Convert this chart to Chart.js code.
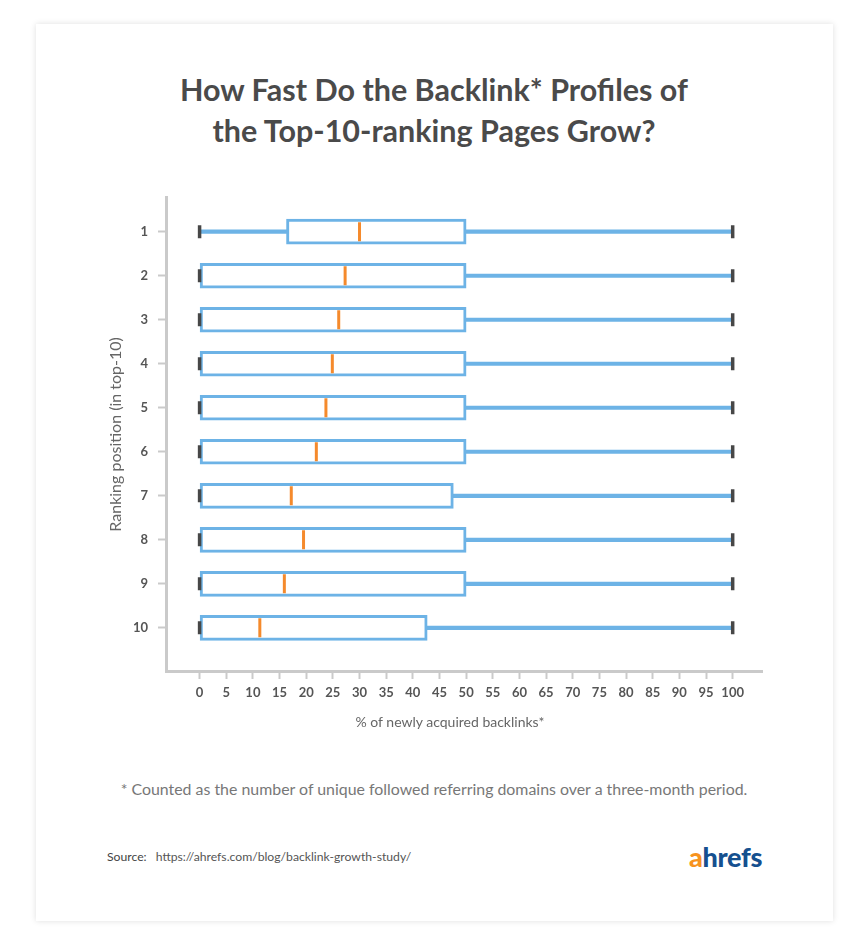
<!DOCTYPE html>
<html>
<head>
<meta charset="utf-8">
<script src="https://cdn.jsdelivr.net/npm/chart.js@4.4.1/dist/chart.umd.min.js"></script>
<style>
  html, body { margin: 0; padding: 0; background: #fff; }
  body { width: 858px; height: 936px; position: relative; font-family: Lato, "Open Sans", sans-serif; }
  .card {
    position: absolute; left: 36px; top: 24px; width: 797px; height: 897px;
    background: #fff; box-shadow: 0 0 6px rgba(0, 0, 0, 0.13);
  }
  .title {
    position: absolute; left: 0; top: 69px; width: 868px; text-align: center;
    font-size: 30.5px; font-weight: 700; line-height: 41px; color: #4a4a4a;
  }
  .chart-wrap { position: absolute; left: 90px; top: 180px; width: 690px; height: 570px; }
  .xtitle {
    position: absolute; left: 300px; top: 713px; width: 300px; text-align: center;
    font-size: 14px; color: #666;
  }
  .note {
    position: absolute; left: 0; top: 779px; width: 868px; text-align: center;
    font-size: 15.9px; color: #777;
  }
  .source { position: absolute; left: 107px; top: 849px; font-size: 12.2px; color: #444; }
  .source span { color: #555; margin-left: 9px; }
  .logo {
    position: absolute; left: 689px; top: 840px; font-size: 27px; font-weight: 900;
    color: #15508f; letter-spacing: -0.3px;
  }
  .logo b { color: #f7931e; font-weight: 900; }
</style>
</head>
<body>
<div class="card"></div>
<div class="title">How Fast Do the Backlink* Profiles of<br>the Top-10-ranking Pages Grow?</div>
<div class="chart-wrap"><canvas id="box-chart"></canvas></div>
<div class="xtitle">% of newly acquired backlinks*</div>
<div class="note">* Counted as the number of unique followed referring domains over a three-month period.</div>
<div class="source">Source:<span>https://ahrefs.com/blog/backlink-growth-study/</span></div>
<div class="logo"><b>a</b>hrefs</div>

<script>
// ranking positions and the five-number summary per position (% of new backlinks)
const positions = [1, 2, 3, 4, 5, 6, 7, 8, 9, 10];
const whiskerLow = [0, 0, 0, 0, 0, 0, 0, 0, 0, 0];
const q1 = [16.3, 0, 0, 0, 0, 0, 0, 0, 0, 0];
const medians = [30, 27.3, 26.1, 24.9, 23.7, 21.9, 17.2, 19.5, 15.9, 11.3];
const q3 = [50, 50, 50, 50, 50, 50, 47.6, 50, 50, 42.7];
const whiskerHigh = [100, 100, 100, 100, 100, 100, 100, 100, 100, 100];
const xTicks = [0, 5, 10, 15, 20, 25, 30, 35, 40, 45, 50, 55, 60, 65, 70, 75, 80, 85, 90, 95, 100];

const blue = '#6db3e6';
const orange = '#f58a2c';
const capGray = '#474747';
const axisGray = '#cacaca';

document.addEventListener('DOMContentLoaded', () => {
    const ctx = document.getElementById('box-chart');

    new Chart(ctx, {
        data: {
            datasets: [
                {
                    type: 'bar',
                    indexAxis: 'y',
                    grouped: false,
                    order: 4,
                    data: positions.map((p, i) => ({ y: p, x: [whiskerLow[i], whiskerHigh[i]] })),
                    backgroundColor: blue,
                    borderWidth: 0,
                    barThickness: 3.5,
                },
                {
                    type: 'bar',
                    indexAxis: 'y',
                    grouped: false,
                    order: 3,
                    data: positions.map((p, i) => ({ y: p, x: [q1[i], q3[i]] })),
                    backgroundColor: '#ffffff',
                    borderColor: blue,
                    borderWidth: 3,
                    borderSkipped: false,
                    barThickness: 25,
                },
                {
                    type: 'scatter',
                    order: 2,
                    data: positions.map((p, i) => ({ x: medians[i], y: p })),
                    pointStyle: 'line',
                    rotation: 90,
                    radius: 9.5,
                    borderWidth: 3,
                    borderColor: orange,
                },
                {
                    type: 'scatter',
                    order: 1,
                    data: positions.flatMap((p, i) => [
                        { x: whiskerLow[i], y: p },
                        { x: whiskerHigh[i], y: p },
                    ]),
                    pointStyle: 'line',
                    rotation: 90,
                    radius: 6.5,
                    borderWidth: 3.5,
                    borderColor: capGray,
                },
            ]
        },
        options: {
            responsive: true,
            maintainAspectRatio: false,
            animation: false,
            layout: { padding: { top: 15, right: 18, left: 0, bottom: 0 } },
            plugins: {
                legend: { display: false },
                tooltip: { enabled: false },
            },
            scales: {
                x: {
                    type: 'linear',
                    min: -6.3,
                    max: 105.5,
                    offset: false,
                    afterBuildTicks: (scale) => {
                        scale.ticks = xTicks.map(v => ({ value: v }));
                    },
                    afterFit: (scale) => { scale.height = 79; },
                    border: { color: axisGray, width: 3 },
                    grid: {
                        offset: false,
                        drawOnChartArea: false,
                        tickLength: 8,
                        tickColor: axisGray,
                        tickWidth: 2,
                    },
                    ticks: {
                        padding: 6,
                        color: '#555',
                        font: { family: 'Lato', size: 13, weight: 'bold' },
                        maxRotation: 0,
                        autoSkip: false,
                    },
                },
                y: {
                    type: 'linear',
                    reverse: true,
                    min: 0.23,
                    max: 10.98,
                    offset: false,
                    afterBuildTicks: (scale) => {
                        scale.ticks = positions.map(v => ({ value: v }));
                    },
                    afterFit: (scale) => { scale.width = 76; },
                    border: { color: axisGray, width: 3 },
                    grid: {
                        offset: false,
                        drawOnChartArea: false,
                        tickLength: 8,
                        tickColor: axisGray,
                        tickWidth: 2,
                    },
                    ticks: {
                        padding: 10,
                        color: '#555',
                        font: { family: 'Lato', size: 13, weight: 'bold' },
                    },
                    title: {
                        display: true,
                        text: 'Ranking position (in top-10)',
                        color: '#666',
                        font: { family: 'Lato', size: 16 },
                        padding: { top: 16, bottom: 0 },
                    },
                },
            },
        },
    });
});
</script>
</body>
</html>
